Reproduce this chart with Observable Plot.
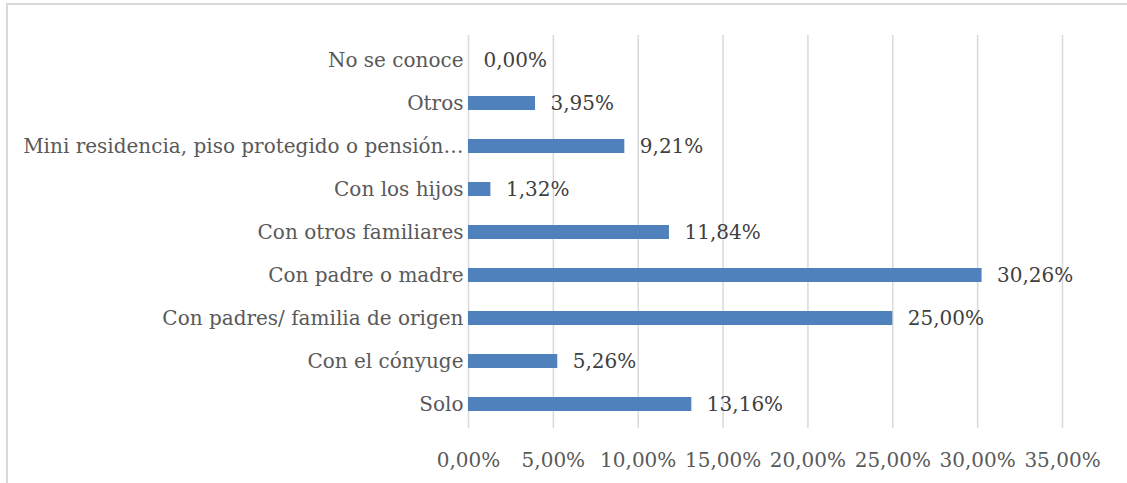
<!DOCTYPE html>
<html>
<head>
<meta charset="utf-8">
<script src="https://cdn.jsdelivr.net/npm/d3@7"></script>
<script src="https://cdn.jsdelivr.net/npm/@observablehq/plot@0.6"></script>
<style>
  html, body { margin: 0; padding: 0; background: #fff; }
  #wrap { position: relative; width: 1127px; height: 483px; overflow: hidden; }
  #border { position: absolute; left: 6px; top: 3px; width: 1200px; height: 600px;
            border-top: 2px solid #d9d9d9; border-left: 2px solid #d9d9d9; pointer-events: none; }
  #chart { position: absolute; left: 0; top: 0; }
</style>
</head>
<body>
<div id="wrap"><div id="chart"></div><div id="border"></div></div>
<script>
const categories = [
  "No se conoce",
  "Otros",
  "Mini residencia, piso protegido o pensión…",
  "Con los hijos",
  "Con otros familiares",
  "Con padre o madre",
  "Con padres/ familia de origen",
  "Con el cónyuge",
  "Solo"
];
const values = [0.0, 3.95, 9.21, 1.32, 11.84, 30.26, 25.00, 5.26, 13.16];
const xTicks = [0, 5, 10, 15, 20, 25, 30, 35];

const data = categories.map((c, i) => ({category: c, value: values[i]}));
const fmt = v => v.toFixed(2).replace(".", ",") + "%";
const font = "'DejaVu Serif', serif";

const chart = Plot.plot({
  width: 1127,
  height: 483,
  marginLeft: 468,
  marginRight: 65,
  marginTop: 35,
  marginBottom: 55,
  style: {fontFamily: font, fontSize: "20px", background: "transparent"},
  x: {domain: [0, 35], ticks: xTicks, tickFormat: fmt, label: null},
  y: {domain: categories, paddingInner: 0.68, paddingOuter: 0.34, label: null},
  marks: [
    Plot.ruleX(xTicks, {stroke: "#d9d9d9", strokeWidth: 1.5, strokeOpacity: 1}),
    Plot.barX(data, {x: "value", y: "category", fill: "#4f81bd"}),
    Plot.text(data, {x: "value", y: "category", text: d => fmt(d.value), textAnchor: "start", dx: 15, fill: "#404040", fontSize: 20}),
    Plot.axisX({ticks: xTicks, tickFormat: fmt, tickSize: 0, tickPadding: 24, color: "#595959", fontSize: 20, label: null}),
    Plot.axisY({tickSize: 0, tickPadding: 5, color: "#595959", fontSize: 20, label: null})
  ]
});
document.getElementById("chart").appendChild(chart);
</script>
</body>
</html>
